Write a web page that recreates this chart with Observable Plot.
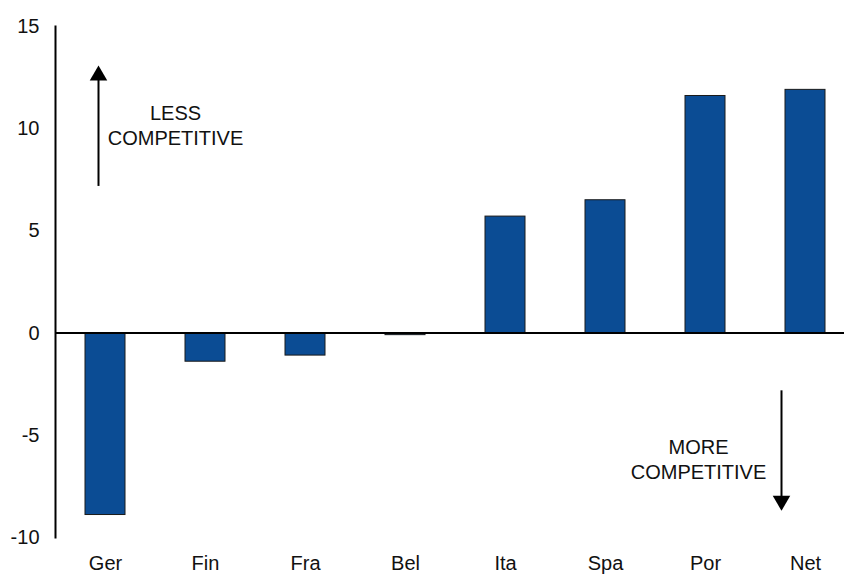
<!DOCTYPE html>
<html>
<head>
<meta charset="utf-8">
<script src="https://cdn.jsdelivr.net/npm/d3@7"></script>
<script src="https://cdn.jsdelivr.net/npm/@observablehq/plot@0.6"></script>
<style>
  html, body { margin: 0; padding: 0; background: #fff; overflow: hidden; }
  #chart svg { display: block; }
</style>
</head>
<body>
<div id="chart"></div>
<script>
const countries = ["Ger", "Fin", "Fra", "Bel", "Ita", "Spa", "Por", "Net"];
const values = [-8.9, -1.4, -1.1, -0.1, 5.7, 6.5, 11.6, 11.9];
const yTicks = [-10, -5, 0, 5, 10, 15];

// annotations (data coordinates)
const arrowCats = ["Ger", "Net"];
const arrowFrom = [7.2, -2.8];
const arrowTo = [12.6, -8.2];
const arrowDx = [-7, -24];
const arrowRotate = [0, 180];
const noteCats = ["Fin", "Por"];
const noteY = [10.2, -6.15];
const noteDx = [-30, -7];
const noteText = ["LESS\nCOMPETITIVE", "MORE\nCOMPETITIVE"];

const data = countries.map((c, i) => ({country: c, value: values[i]}));
const arrows = arrowCats.map((c, i) => ({cat: c, y1: arrowFrom[i], y2: arrowTo[i], dx: arrowDx[i], rot: arrowRotate[i]}));
const notes = noteCats.map((c, i) => ({cat: c, y: noteY[i], dx: noteDx[i], text: noteText[i]}));

const font = "'Liberation Sans', Arial, sans-serif";
const barColor = "#0B4C94";

const marks = [
  Plot.barY(data, {x: "country", y: "value", fill: barColor, stroke: "#1a1a1a", strokeWidth: 1}),
  Plot.ruleY([0], {stroke: "#000", strokeWidth: 2}),
  Plot.frame({anchor: "left", stroke: "#000", strokeWidth: 2}),
  Plot.axisY({ticks: yTicks, tickSize: 0, tickPadding: 16, tickFormat: d => String(d), fontSize: 20, label: null}),
  Plot.axisX({tickSize: 0, tickPadding: 18, fontSize: 20, label: null})
];
arrows.forEach(a => {
  marks.push(Plot.link([a], {x1: "cat", x2: "cat", y1: "y1", y2: "y2", dx: a.dx, stroke: "#000", strokeWidth: 2}));
  marks.push(Plot.dot([a], {x: "cat", y: "y2", dx: a.dx, symbol: "triangle", r: 6.5, fill: "#000", stroke: "none", rotate: a.rot}));
});
notes.forEach(n => {
  marks.push(Plot.text([n], {x: "cat", y: "y", dx: n.dx, text: "text", fontSize: 20, lineHeight: 1.25, fill: "#111", textAnchor: "middle"}));
});

const chart = Plot.plot({
  width: 844,
  height: 576,
  marginTop: 26,
  marginBottom: 39,
  marginLeft: 55,
  marginRight: 0,
  style: {fontFamily: font, fontSize: "20px", color: "#111", background: "#fff", overflow: "visible"},
  x: {domain: countries, range: [55, 855], paddingInner: 0.6, paddingOuter: 0.3, axis: null},
  y: {domain: [-10, 15], axis: null},
  marks
});
document.getElementById("chart").appendChild(chart);
</script>
</body>
</html>
